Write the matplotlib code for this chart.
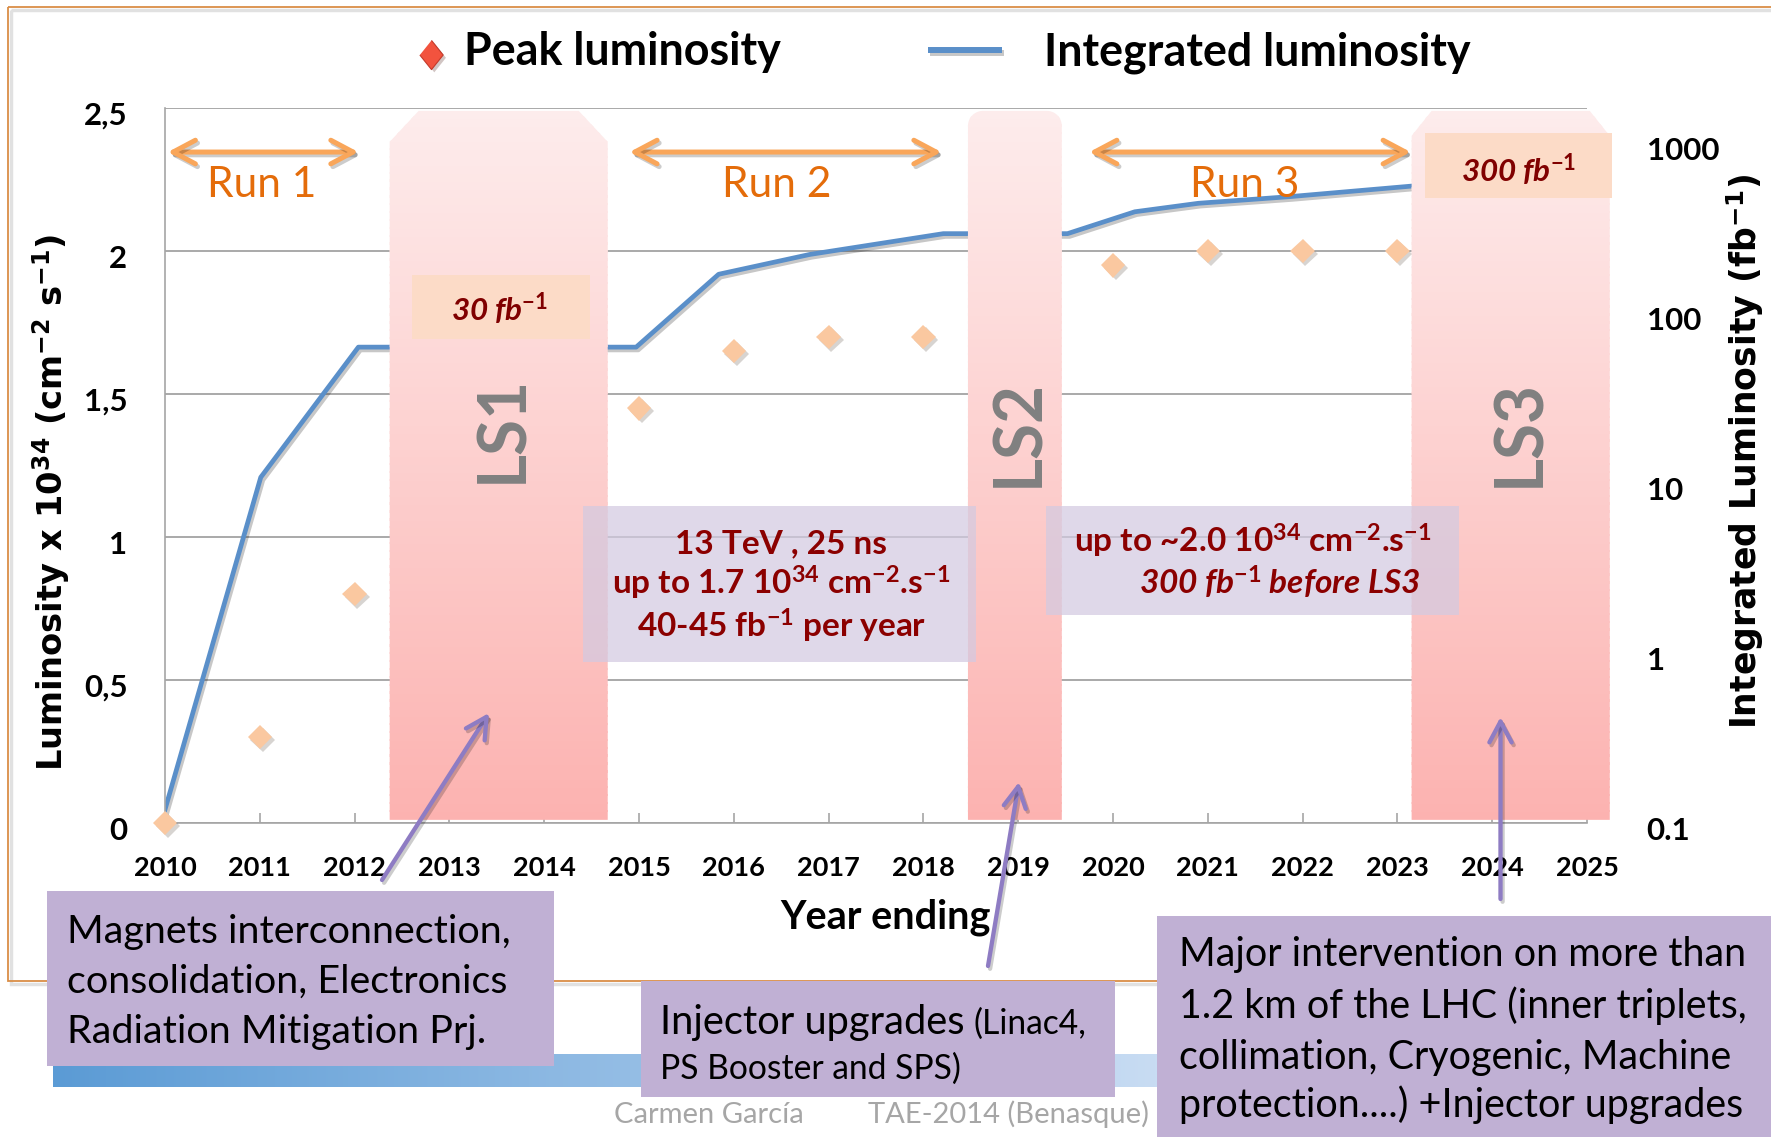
import numpy as np
import matplotlib
matplotlib.use("Agg")
import matplotlib.pyplot as plt
from matplotlib.patches import Polygon, Rectangle, FancyArrowPatch, ArrowStyle
from matplotlib.transforms import ScaledTranslation
from matplotlib.ticker import NullLocator
import matplotlib.patheffects as pe

plt.rcParams.update({
    "mathtext.fontset": "custom",
    "mathtext.rm": "Lato:bold",
    "mathtext.it": "Lato:italic:bold",
    "mathtext.bf": "DejaVu Sans:bold",
    "mathtext.sf": "Lato",
    "mathtext.default": "rm",
    "font.family": ["Lato", "DejaVu Sans"],
})

# ---------------- data ----------------
year_ticks = list(range(2010, 2026))
peak_years = [2010, 2011, 2012, 2015, 2016, 2017, 2018, 2020, 2021, 2022, 2023]
peak_lumi = [0.0, 0.30, 0.80, 1.45, 1.65, 1.70, 1.70, 1.95, 2.00, 2.00, 2.00]
int_years = [2010.0, 2011.01, 2012.04, 2014.97, 2015.84, 2016.80, 2018.21,
             2019.52, 2020.23, 2020.90, 2021.87, 2023.15]
int_lumi = [0.12, 10.8, 63, 63, 169, 221, 293, 293, 394, 442, 484, 558]
shutdowns = ["LS1", "LS2", "LS3"]
sd_start = [2012.37, 2018.47, 2023.15]
sd_end = [2014.67, 2019.46, 2025.24]
runs = ["Run 1", "Run 2", "Run 3"]
run_start = [2010.03, 2014.90, 2019.75]
run_end = [2012.04, 2018.19, 2023.14]
left_ticks = [0, 0.5, 1, 1.5, 2, 2.5]
left_labels = ["0", "0,5", "1", "1,5", "2", "2,5"]
right_ticks = [0.1, 1, 10, 100, 1000]
right_labels = ["0.1", "1", "10", "100", "1000"]

# ---------------- figure ----------------
W, H = 1771, 1137
DPI = 100
fig = plt.figure(figsize=(W / DPI, H / DPI), dpi=DPI, facecolor="white")
R = fig.canvas.get_renderer()


def fit(s, width, **kw):
    t = fig.text(0, 0, s, fontsize=20, **kw)
    w = t.get_window_extent(renderer=R).width
    t.remove()
    return 20.0 * width / w


X0, X1, Y0, Y1 = 165, 1587, 108, 823
ax = fig.add_axes([X0 / W, 1 - Y1 / H, (X1 - X0) / W, (Y1 - Y0) / H])
ax2 = ax.twinx()
ax2.set_yscale("log")
PX = 15 / (X1 - X0)      # years per pixel
PY = 2.5 / (Y1 - Y0)     # units per pixel

# spines / grid
for s in ["top", "right"]:
    ax.spines[s].set_visible(False)
for s in ["left", "bottom"]:
    ax.spines[s].set_color("#A6A6A6")
    ax.spines[s].set_linewidth(1.2)
for s in ax2.spines.values():
    s.set_visible(False)
ax.yaxis.grid(True, color="#A3A3A3", lw=1.3)
ax.set_axisbelow(True)

# integrated luminosity line (right log axis)
ax.plot(int_years, int_lumi, transform=ax2.transData, color="#5A8FC9", lw=3.4,
        zorder=2.5, solid_joinstyle="round",
        path_effects=[pe.SimpleLineShadow(offset=(1.5, -2), alpha=0.22), pe.Normal()])

# peak luminosity diamonds
ax.plot(peak_years, peak_lumi, ls="none", marker="D", ms=12.5, mfc="#FAC8A0",
        mec="#FAC8A0", mew=0, zorder=4, clip_on=False,
        path_effects=[pe.SimplePatchShadow(offset=(2, -2), alpha=0.22), pe.Normal()])

# shutdown bands with vertical gradient
ybot, ytop = 0.011, 2.49
band_styles = {"LS1": ("chamfer", 29, 31), "LS2": ("round", 15, 15), "LS3": ("chamfer", 20, 25)}
top_c = np.array([253, 236, 236]) / 255
bot_c = np.array([252, 178, 176]) / 255
for name, a, b in zip(shutdowns, sd_start, sd_end):
    st, cx, cy = band_styles[name]
    dx, dy = cx * PX, cy * PY
    if st == "chamfer":
        verts = [(a, ybot), (b, ybot), (b, ytop - dy), (b - dx, ytop), (a + dx, ytop), (a, ytop - dy)]
    else:
        th = np.linspace(0, np.pi / 2, 12)
        right = [(b - dx + dx * np.cos(t), ytop - dy + dy * np.sin(t)) for t in th]
        left = [(a + dx - dx * np.cos(t), ytop - dy + dy * np.sin(t)) for t in th[::-1]]
        verts = [(a, ybot), (b, ybot)] + right + left
    poly = Polygon(verts, closed=True, transform=ax.transData)
    n = 90
    for i in range(n):
        ya = ybot + (ytop - ybot) * i / n
        hh = (ytop - ybot) / n * 1.3
        f = (i + 0.5) / n
        c = bot_c + (top_c - bot_c) * f
        r = Rectangle((a - 0.05, ya), (b - a) + 0.1, hh, fc=c, ec="none", lw=0,
                      transform=ax.transData, zorder=3)
        r.set_clip_path(poly)
        ax.add_patch(r)

# lavender info boxes (semi-transparent)
lav = (211 / 255, 202 / 255, 225 / 255)
ax.add_patch(Rectangle((2014.41, 0.564), 4.15, 0.544, fc=lav, ec="none", alpha=0.72, zorder=5))
ax.add_patch(Rectangle((2019.29, 0.727), 4.365, 0.381, fc=lav, ec="none", alpha=0.72, zorder=5))

# peach fb boxes
peach = (252 / 255, 219 / 255, 199 / 255)
ax.add_patch(Rectangle((2012.602, 1.691), 1.878, 0.225, fc=peach, ec="none", zorder=5))
ax.add_patch(Rectangle((2023.29, 2.185), 1.973, 0.227, fc=peach, ec="none", zorder=5, clip_on=False))

darkred = "#8B0000"
fs_fb = fit(r"30 fb$^{\mathit{-1}}$", 97, weight="bold", style="italic")
ax.text(2013.53, 1.756, r"30 fb$^{\mathit{-1}}$", ha="center", va="baseline", fontsize=fs_fb,
        weight="bold", style="italic", color="#800000", zorder=6)
ax.text(2024.28, 2.242, r"300 fb$^{\mathit{-1}}$", ha="center", va="baseline", fontsize=fs_fb,
        weight="bold", style="italic", color="#800000", zorder=6, clip_on=False)

# Run arrows and labels
run_text_x = [2011.02, 2016.45, 2021.39]
fs_run = fit("Run 1", 110)
for name, a, b, xc in zip(runs, run_start, run_end, run_text_x):
    arr = FancyArrowPatch((a, 2.346), (b, 2.346),
                          arrowstyle=ArrowStyle("<->", head_length=16, head_width=8.5),
                          mutation_scale=1, lw=3.6, color="#F9A65A", shrinkA=0, shrinkB=0,
                          zorder=6, transform=ax.transData, capstyle="round", joinstyle="round")
    arr.set_path_effects([pe.SimpleLineShadow(offset=(1.5, -2), alpha=0.2), pe.Normal()])
    ax.add_patch(arr)
    ax.text(xc, 2.19, name, ha="center", va="baseline", fontsize=fs_run, color="#E46C0A", zorder=7)

# LS labels
ls_pos = [(2013.57, 1.379), (2019.01, 1.364), (2024.30, 1.364)]
fs_ls = fit("LS1", 108, weight="bold")
for name, (xx, yy) in zip(shutdowns, ls_pos):
    ax.text(xx, yy, name, rotation=90, ha="center", va="center", fontsize=fs_ls,
            weight="bold", color="#808080", zorder=6)

# info box texts
fs_box = fit("13 TeV , 25 ns", 212, weight="bold")
for s, yy in [("13 TeV , 25 ns", 0.944),
              (r"up to 1.7 10$^{34}$ cm$^{-2}$.s$^{-1}$", 0.797),
              (r"40-45 fb$^{-1}$ per year", 0.647)]:
    ax.text(2016.5, yy, s, ha="center", va="baseline", fontsize=fs_box, weight="bold",
            color=darkred, zorder=7)
ax.text(2021.47, 0.944, r"up to ~2.0 10$^{34}$ cm$^{-2}$.s$^{-1}$", ha="center", va="baseline",
        fontsize=fs_box, weight="bold", color=darkred, zorder=7)
ax.text(2021.76, 0.797, r"300 fb$^{\mathit{-1}}$ before LS3", ha="center", va="baseline",
        fontsize=fs_box, weight="bold", style="italic", color=darkred, zorder=7)

# axes limits
ax.set_xlim(2010, 2025)
ax.set_ylim(0, 2.5)
ax2.set_ylim(0.1, 10 ** 3.206)

# ticks
fs_x = fit("2010", 63, weight="bold")
ax.set_xticks(year_ticks)
ax.set_xticklabels([str(y) for y in year_ticks], fontsize=fs_x, fontweight="bold")
ax.tick_params(axis="x", direction="in", length=7, width=1.2, color="#A6A6A6", pad=24)
fs_y = fit("1000", 73, weight="bold")
ax.set_yticks(left_ticks)
ax.set_yticklabels(left_labels, fontsize=fs_y, fontweight="bold")
ax.tick_params(axis="y", length=0, pad=27)
ax2.set_yticks(right_ticks)
ax2.set_yticklabels(right_labels, fontsize=fs_y, fontweight="bold")
ax2.yaxis.set_minor_locator(NullLocator())
ax2.tick_params(axis="y", which="both", length=0, pad=43)

off = ScaledTranslation(0, -5.5 / DPI, fig.dpi_scale_trans)
for lab in ax.get_yticklabels() + ax2.get_yticklabels():
    lab.set_transform(lab.get_transform() + off)

# axis titles
fs_xl = fit("Year ending", 211, weight="bold")
ax.set_xlabel("Year ending", fontsize=fs_xl, fontweight="bold")
ax.xaxis.set_label_coords((885 - X0) / (X1 - X0), (Y1 - 928) / (Y1 - Y0))
ax.xaxis.label.set_verticalalignment("baseline")

ylab = r"Luminosity x 10$^{\mathbf{34}}$ (cm$^{\mathbf{-2}}$ s$^{\mathbf{-1}}$)"
fs_yl = fit(ylab, 512, family="DejaVu Sans", weight="bold") * 1.05
ax.set_ylabel(ylab, fontsize=fs_yl, family="DejaVu Sans", fontweight="bold")
ax.yaxis.set_label_coords((52 - X0) / (X1 - X0), (Y1 - 502) / (Y1 - Y0))
ax.yaxis.label.set_verticalalignment("center")
ax.yaxis.label.set_horizontalalignment("center")

rlab = r"Integrated Luminosity (fb$^{\mathbf{-1}}$)"
fs_rl = fit(rlab, 540, family="DejaVu Sans", weight="bold") * 1.03
ax2.set_ylabel(rlab, fontsize=fs_rl, family="DejaVu Sans", fontweight="bold", rotation=90)
ax2.yaxis.set_label_coords((1745 - X0) / (X1 - X0), (Y1 - 451) / (Y1 - Y0))
ax2.yaxis.label.set_verticalalignment("center")
ax2.yaxis.label.set_horizontalalignment("center")

# ---------------- overlay (slide elements, pixel coordinates) ----------------
ov = fig.add_axes([0, 0, 1, 1], zorder=20)
ov.patch.set_visible(False)
ov.axis("off")

# blue gradient bar
grad = np.linspace(0, 1, 256)[None, :, None]
c0 = np.array([91, 155, 213]) / 255
c1 = np.array([200, 220, 243]) / 255
ov.imshow(c0 + (c1 - c0) * grad, extent=[53, 1157, 1087.5, 1055], aspect="auto",
          zorder=1, interpolation="bilinear")

# orange slide frame
ov.add_patch(Rectangle((11, 10), 1800, 973.6, fill=False, ec="#BDBDBD", lw=2.5, alpha=0.45, zorder=0.5))
ov.add_patch(Rectangle((8, 7), 1800, 973.6, fill=False, ec="#DA8E47", lw=1.3, zorder=0.6))

# legend
fs_leg = fit("Integrated luminosity", 427, weight="bold")
ov.plot([431.5], [55], ls="none", marker=[(0, 1), (0.8, 0), (0, -1), (-0.8, 0)], ms=21,
        mfc="#F2533E", mec="#C43A2A", mew=0.8, zorder=3,
        path_effects=[pe.SimplePatchShadow(offset=(2, -2), alpha=0.25), pe.Normal()])
ov.text(464, 65, "Peak luminosity", ha="left", va="baseline", fontsize=fs_leg, weight="bold",
        color="black", zorder=3)
ov.plot([928, 1002], [50, 50], color="#5A8FC9", lw=4.3, solid_capstyle="butt", zorder=3,
        path_effects=[pe.SimpleLineShadow(offset=(1.5, -2), alpha=0.22), pe.Normal()])
ov.text(1044, 65, "Integrated luminosity", ha="left", va="baseline", fontsize=fs_leg,
        weight="bold", color="black", zorder=3)

# callout boxes
box_c = "#C0B0D4"
ov.add_patch(Rectangle((47, 890.5), 507, 175.2, fc=box_c, ec="none", zorder=2))
ov.add_patch(Rectangle((641, 980.6), 474, 116.5, fc=box_c, ec="none", zorder=2))
ov.add_patch(Rectangle((1157, 915.7), 700, 300, fc=box_c, ec="none", zorder=2))

fs_b1 = fit("Magnets interconnection,", 445)
for s, yb in [("Magnets interconnection,", 943), ("consolidation, Electronics", 993),
              ("Radiation Mitigation Prj.", 1043.5)]:
    ov.text(67, yb, s, ha="left", va="baseline", fontsize=fs_b1, color="black", zorder=3)

fs_b2a = fit("Injector upgrades", 306)
fs_b2b = fit("PS Booster and SPS)", 300)
ov.text(660, 1034, "Injector upgrades", ha="left", va="baseline", fontsize=fs_b2a, color="black", zorder=3)
ov.text(974, 1034, "(Linac4,", ha="left", va="baseline", fontsize=fs_b2b, color="black", zorder=3)
ov.text(660, 1079, "PS Booster and SPS)", ha="left", va="baseline", fontsize=fs_b2b, color="black", zorder=3)

fs_b3 = fit("Major intervention on more than", 569.5)
for s, yb in [("Major intervention on more than", 966),
              ("1.2 km of the LHC (inner triplets,", 1018),
              ("collimation, Cryogenic, Machine", 1068.6),
              ("protection....) +Injector upgrades", 1117)]:
    ov.text(1179.5, yb, s, ha="left", va="baseline", fontsize=fs_b3, color="black", zorder=3)

# callout arrows
for p0, p1 in [((382, 880), (489, 713)), ((988, 966), (1019, 782)), ((1500.5, 899), (1500.5, 717))]:
    arr = FancyArrowPatch(p0, p1, arrowstyle=ArrowStyle("->", head_length=15, head_width=8),
                          mutation_scale=1, lw=3.1, color="#8E7CC3", shrinkA=0, shrinkB=0,
                          zorder=4, capstyle="round", joinstyle="round")
    arr.set_path_effects([pe.SimpleLineShadow(offset=(1.5, -2), alpha=0.2), pe.Normal()])
    ov.add_patch(arr)

# footer
fs_ft = fit("Carmen García", 190)
ov.text(709, 1123, "Carmen García", ha="center", va="baseline", fontsize=fs_ft, color="#A6A6A6", zorder=3)
ov.text(1008.5, 1123, "TAE-2014 (Benasque)", ha="center", va="baseline", fontsize=fs_ft,
        color="#A6A6A6", zorder=3)

ov.set_xlim(0, W)
ov.set_ylim(H, 0)

fig.savefig("out.png", dpi=DPI, facecolor="white")
